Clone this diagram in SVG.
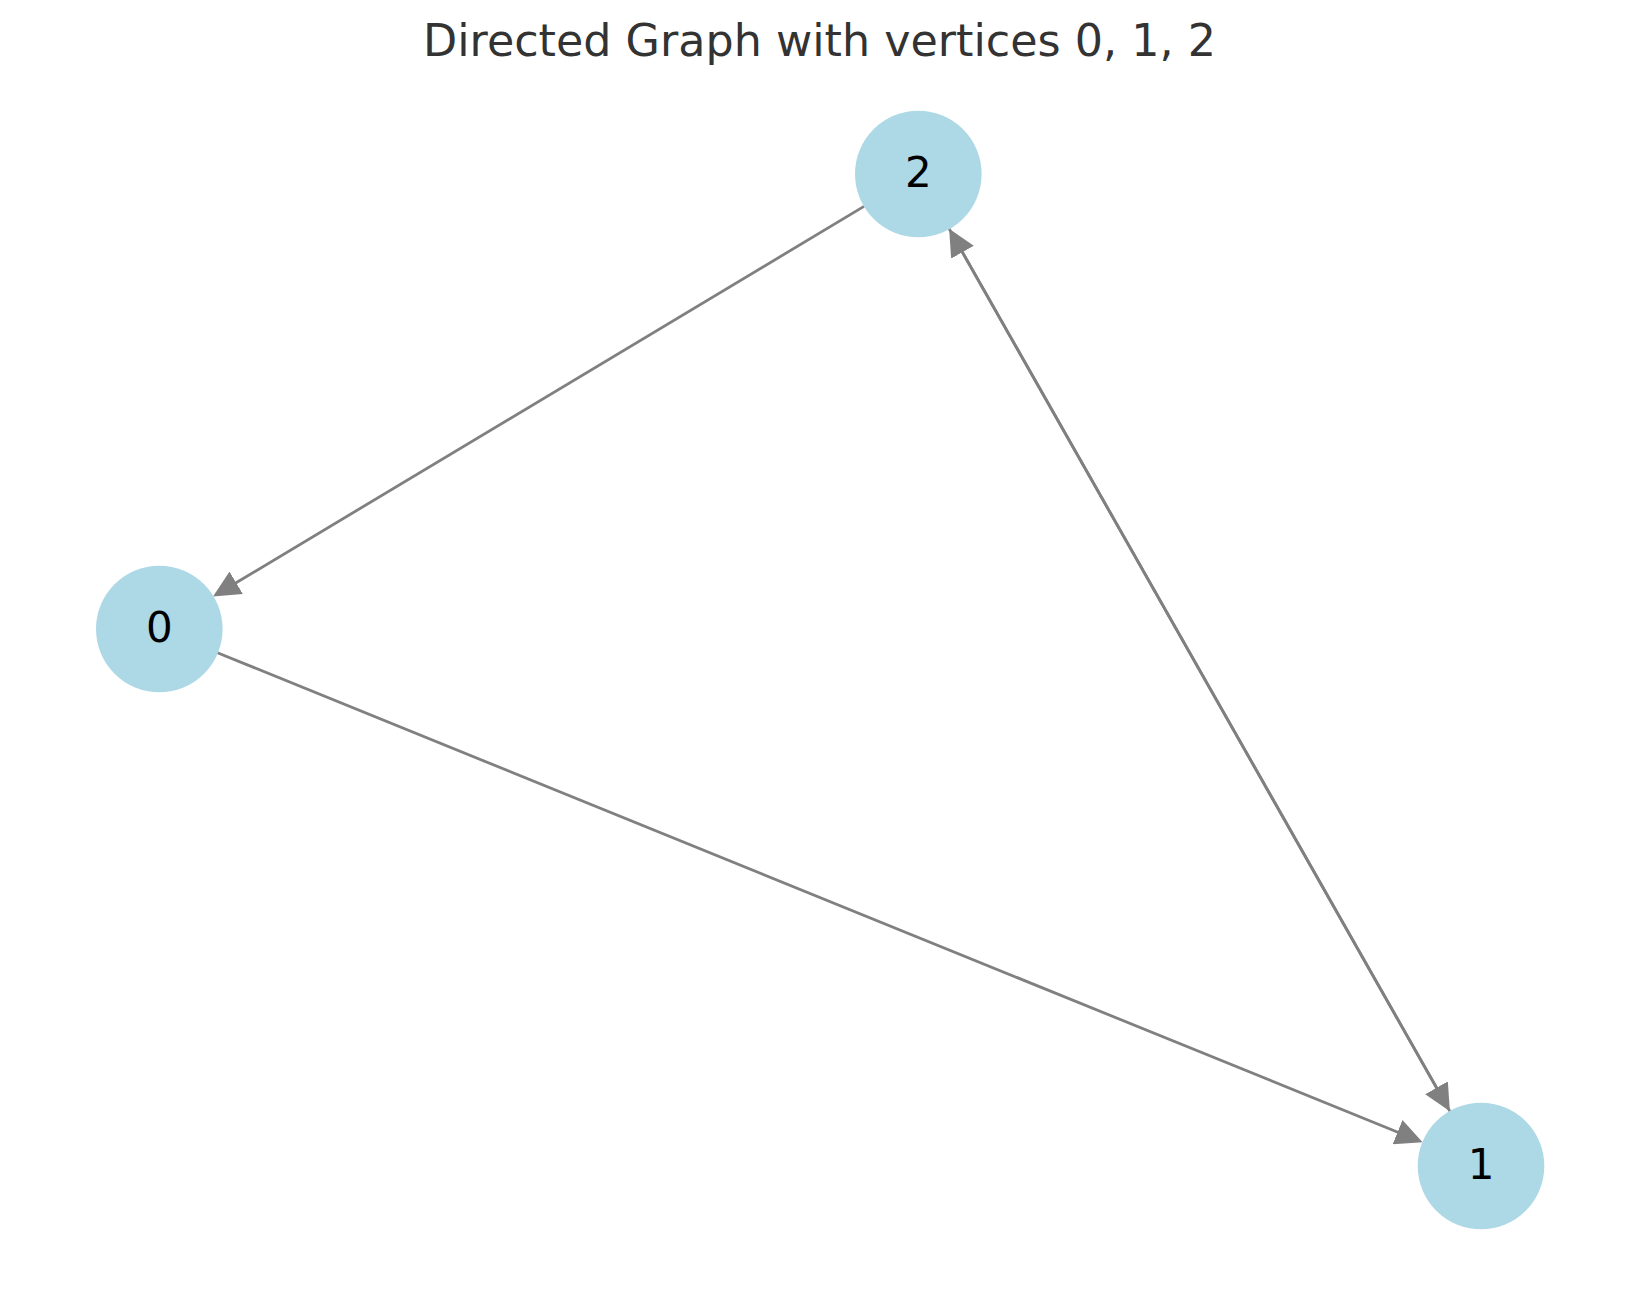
<svg xmlns="http://www.w3.org/2000/svg" width="1639" height="1290" viewBox="0 0 1639 1290">
<style>
.title{font-family:"DejaVu Sans",sans-serif;font-size:44.4px;fill:#333333;text-anchor:middle}
.node circle{fill:#ADD8E6}
.node text{font-family:"DejaVu Sans",sans-serif;font-size:42px;fill:#000000;text-anchor:middle}
.edge{stroke:#808080;stroke-width:2.8;fill:none;marker-end:url(#arr)}
</style>
<defs>
<marker id="arr" markerUnits="userSpaceOnUse" markerWidth="27" markerHeight="26" refX="5" refY="13" orient="auto" viewBox="0 0 27 26">
<path d="M0,0 L27,13 L0,26 Z" fill="#808080"/>
</marker>
</defs>
<rect width="1639" height="1290" fill="#ffffff"/>
<text class="title" x="819.5" y="56">Directed Graph with vertices 0, 1, 2</text>
<g id="edges">
<line class="edge" x1="864.0" y1="206.4" x2="231.9" y2="585.3"/>
<line class="edge" x1="217.4" y1="652.7" x2="1402.2" y2="1134.0"/>
<line class="edge" x1="949.1" y1="228.8" x2="1439.0" y2="1092.1"/>
<line class="edge" x1="1449.9" y1="1111.2" x2="960.0" y2="247.9"/>
</g>
<g id="node0" class="node"><circle cx="159.3" cy="629" r="63.3"/><text x="159.3" y="641.5">0</text></g>
<g id="node1" class="node"><circle cx="1481" cy="1166" r="63.3"/><text x="1481" y="1179.3">1</text></g>
<g id="node2" class="node"><circle cx="918.3" cy="174" r="63.3"/><text x="918.3" y="187.3">2</text></g>
</svg>
